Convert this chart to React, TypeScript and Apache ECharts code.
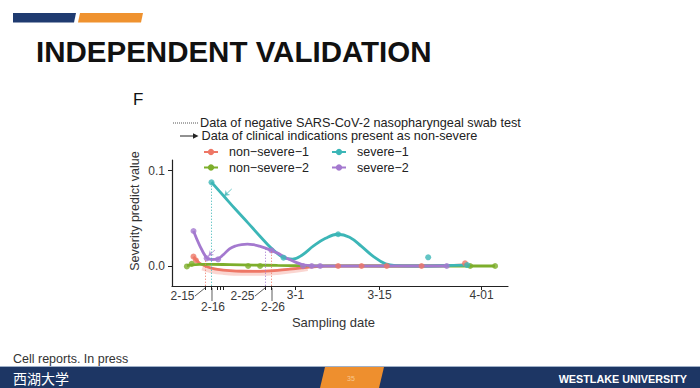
import React, { useEffect, useRef } from 'react';
import * as echarts from 'echarts';

const FONT = '"Liberation Sans", Arial, Helvetica, sans-serif';

// ---- series identity ----
const seriesNames = ['non−severe−1', 'non−severe−2', 'severe−1', 'severe−2'];
const seriesColors = ['#EE7766', '#7DAE2B', '#3CB6B7', '#A479CF'];

// ---- observed points (x = days after 2-15, 2020; y = severity predict value) ----
const nonSevere1Days = [-2, -1.6, 22.1, 26, 30.2, 36, 43.25];
const nonSevere1Vals = [0.0098, 0.006, 0, 0, 0, 0, 0.0028];
const nonSevere2Days = [-3.1, -2.3, 7.1, 9.1, 44.1, 48.25];
const nonSevere2Vals = [-0.0005, 0.0022, 0, 0, 0, 0];
const severe1Days = [1, 13, 22.1, 37.1, 43.6];
const severe1Vals = [0.0878, 0.0087, 0.0333, 0.0091, 0.001];
const severe2Days = [-2, 0.2, 2.1, 11, 16.25, 17.7, 19.1, 40.2];
const severe2Vals = [0.0367, 0.008, 0.007, 0.0163, 0, 0, 0, 0];

// ---- smoothed (loess) curves ----
const nonSevere1CurveDays = [-2, -1.5, -1, 0, 1, 2, 4, 6, 8, 10, 12, 14, 16, 18, 20, 25, 30, 35, 40, 43.25];
const nonSevere1CurveVals = [0.0098, 0.006, 0.003, 0.0, -0.0022, -0.0035, -0.0048, -0.0055, -0.0056, -0.0054, -0.0046, -0.0034, -0.002, -0.0008, -0.0002, 0, 0, 0, 0.0004, 0.0012];
const nonSevere1BandDays = [-0.5, 1, 3, 6, 9, 12, 15, 17];
const nonSevere1BandVals = [-0.0015, -0.0045, -0.0062, -0.0072, -0.0072, -0.0062, -0.004, -0.0022];
const nonSevere2CurveDays = [-3.1, -2.3, -1, 1, 4, 8, 12, 16, 20, 30, 40, 48.25];
const nonSevere2CurveVals = [0.0003, 0.0012, 0.0017, 0.0017, 0.0014, 0.001, 0.0006, 0.0003, 0.0001, 0, 0, 0];
const severe1CurveDays = [1, 3, 5, 7, 9, 11, 13, 14.5, 16, 18, 20, 22, 24, 26, 28, 30, 32, 36, 40, 43.6];
const severe1CurveVals = [0.0878, 0.0737, 0.0595, 0.0458, 0.0318, 0.0185, 0.0088, 0.0072, 0.011, 0.021, 0.029, 0.0333, 0.0302, 0.0205, 0.0098, 0.0022, 0.0004, 0, 0.0004, 0.001];
const severe2CurveDays = [-2, -1, 0.2, 1, 2, 3, 4, 5, 6, 7, 8, 9, 10, 11, 12, 13, 14, 15, 16, 17, 18.5, 25, 30, 35, 40.2];
const severe2CurveVals = [0.0367, 0.022, 0.0085, 0.0068, 0.0075, 0.012, 0.018, 0.021, 0.0225, 0.023, 0.0223, 0.0208, 0.0188, 0.0163, 0.0135, 0.01, 0.0068, 0.004, 0.0018, 0.0006, 0, 0, 0, 0, 0];

// ---- annotations ----
const negTestDays = [0, 1, 10, 11];
const negTestTops = [0.006, 0.0878, 0.02, 0.015];
const negTestSeries = [0, 2, 3, 0];
const arrowFrom = [[4.37, 0.0808], [1.58, 0.0168]];
const arrowTo = [[3.13, 0.0735], [0.47, 0.0105]];
const arrowSeries = [2, 3];

// ---- axes ----
const X_MIN = -5.58;
const X_MAX = 50.4;
const Y_MIN = -0.021;
const Y_MAX = 0.1112;
const xTickDays = [0, 1, 1.9, 2.4, 2.9, 10, 11, 15, 29, 46];
const xLabelDays = [15, 29, 46];
const xLabelTexts = ['3-1', '3-15', '4-01'];
const xLeaderDays = [0, 1, 10, 11];
const xLeaderTexts = ['2-15', '2-16', '2-25', '2-26'];
const yTickValues = [0, 0.1];
const yTickTexts = ['0.0', '0.1'];

const pair = (xs: number[], ys: number[]) => xs.map((x, i) => [x, ys[i]]);

export default function App() {
  const ref = useRef<HTMLDivElement>(null);
  useEffect(() => {
    if (!ref.current) return;
    const chart = echarts.init(ref.current, undefined, { renderer: 'svg' });
    const curves = [
      [nonSevere1CurveDays, nonSevere1CurveVals],
      [nonSevere2CurveDays, nonSevere2CurveVals],
      [severe1CurveDays, severe1CurveVals],
      [severe2CurveDays, severe2CurveVals],
    ];
    const points = [
      [nonSevere1Days, nonSevere1Vals],
      [nonSevere2Days, nonSevere2Vals],
      [severe1Days, severe1Vals],
      [severe2Days, severe2Vals],
    ];
    const series: any[] = [];
    series.push({
      type: 'line', name: 'band', data: pair(nonSevere1BandDays, nonSevere1BandVals), smooth: 0.4,
      symbol: 'none', lineStyle: { color: seriesColors[0], width: 6, opacity: 0.3 }, silent: true, z: 1,
    });
    curves.forEach((c, i) => {
      series.push({
        type: 'line', name: seriesNames[i], data: pair(c[0], c[1]), smooth: 0.4,
        symbol: 'circle', symbolSize: 6, showSymbol: false,
        lineStyle: { color: seriesColors[i], width: 2.8 }, itemStyle: { color: seriesColors[i] }, z: 2,
      });
    });
    points.forEach((p, i) => {
      series.push({
        type: 'scatter', name: seriesNames[i], data: pair(p[0], p[1]), symbolSize: 6,
        itemStyle: { color: seriesColors[i] }, z: 3,
      });
    });
    series.push({
      type: 'line', name: 'annot', data: [], symbol: 'none', z: 4,
      markLine: {
        silent: true, symbol: ['none', 'none'], label: { show: false }, animation: false,
        data: negTestDays.map((d, i) => [
          { coord: [d, Y_MIN], lineStyle: { color: seriesColors[negTestSeries[i]], type: [1.4, 1.6], width: 1, opacity: 0.75 } },
          { coord: [d, negTestTops[i]] },
        ]),
      },
    });
    series.push({
      type: 'line', name: 'arrows', data: [], symbol: 'none', z: 4,
      markLine: {
        silent: true, symbol: ['none', 'arrow'], symbolSize: 5, label: { show: false }, animation: false,
        data: arrowFrom.map((f, i) => [
          { coord: f, lineStyle: { color: seriesColors[arrowSeries[i]], type: 'solid', width: 1, opacity: 0.75 } },
          { coord: arrowTo[i] },
        ]),
      },
    });

    const legendCommon = {
      orient: 'vertical', top: 145, padding: 0, itemWidth: 14, itemHeight: 8, itemGap: 1.5,
      selectedMode: false,
      textStyle: { fontSize: 12.5, color: '#222', fontFamily: FONT, lineHeight: 14, padding: [0, 0, 0, 6] },
    };

    chart.setOption({
      animation: false,
      backgroundColor: '#ffffff',
      grid: { left: 172, top: 160, width: 336, height: 126, outerBoundsMode: 'none', containLabel: false },
      legend: [
        { ...legendCommon, left: 203, data: [seriesNames[0], seriesNames[1]] },
        { ...legendCommon, left: 331, data: [seriesNames[2], seriesNames[3]] },
      ],
      xAxis: {
        type: 'value', min: X_MIN, max: X_MAX,
        axisLine: { show: true, onZero: false, lineStyle: { color: '#222', width: 1.2 } },
        axisTick: { show: true, length: 4, customValues: xTickDays, lineStyle: { color: '#222', width: 1 } },
        axisLabel: {
          show: true, customValues: xLabelDays, margin: 3, fontSize: 12, color: '#3a3a3a', fontFamily: FONT,
          formatter: (v: number) => { const k = xLabelDays.indexOf(v); return k >= 0 ? xLabelTexts[k] : ''; },
        },
        splitLine: { show: false },
      },
      yAxis: {
        type: 'value', min: Y_MIN, max: Y_MAX,
        axisLine: { show: true, onZero: false, lineStyle: { color: '#222', width: 1.2 } },
        axisTick: { show: true, length: 4, customValues: yTickValues, lineStyle: { color: '#222', width: 1 } },
        axisLabel: {
          show: true, customValues: yTickValues, margin: 7, fontSize: 12, color: '#3a3a3a', fontFamily: FONT,
          formatter: (v: number) => { const k = yTickValues.indexOf(v); return k >= 0 ? yTickTexts[k] : ''; },
        },
        splitLine: { show: false },
      },
      series,
    });

    const g: any[] = [];
    // slide decorations
    g.push({ type: 'polygon', shape: { points: [[13, 13], [76, 13], [74, 22.5], [13, 22.5]] }, style: { fill: '#1f3b70' } });
    g.push({ type: 'polygon', shape: { points: [[80, 13], [143, 13], [141, 22.5], [78, 22.5]] }, style: { fill: '#ef922f' } });
    g.push({ type: 'text', x: 36, y: 51.5, style: { text: 'INDEPENDENT VALIDATION', fontSize: 29.5, fontWeight: 'bold', fill: '#111', fontFamily: FONT, verticalAlign: 'middle' } });
    g.push({ type: 'text', x: 133, y: 99, style: { text: 'F', fontSize: 17, fill: '#111', fontFamily: FONT, verticalAlign: 'middle' } });
    // annotation key
    g.push({ type: 'line', shape: { x1: 173, y1: 123, x2: 199, y2: 123 }, style: { stroke: '#555', lineWidth: 1, lineDash: [1, 1] } });
    g.push({ type: 'text', x: 200, y: 122.5, style: { text: 'Data of negative SARS-CoV-2 nasopharyngeal swab test', fontSize: 12.7, fill: '#222', fontFamily: FONT, verticalAlign: 'middle' } });
    g.push({ type: 'line', shape: { x1: 180, y1: 136, x2: 194, y2: 136 }, style: { stroke: '#222', lineWidth: 1 } });
    g.push({ type: 'polygon', shape: { points: [[193, 133.3], [198.5, 136], [193, 138.7]] }, style: { fill: '#222' } });
    g.push({ type: 'text', x: 201.5, y: 135.8, style: { text: 'Data of clinical indications present as non-severe', fontSize: 12.7, fill: '#222', fontFamily: FONT, verticalAlign: 'middle' } });
    // axis titles
    g.push({ type: 'text', x: 135, y: 211, rotation: Math.PI / 2, style: { text: 'Severity predict value', fontSize: 12.5, fill: '#333', fontFamily: FONT, align: 'center', verticalAlign: 'middle' } });
    g.push({ type: 'text', x: 333.5, y: 322, style: { text: 'Sampling date', fontSize: 13, fill: '#333', fontFamily: FONT, align: 'center', verticalAlign: 'middle' } });
    // repelled x labels with leader segments
    xLeaderDays.forEach((d, i) => {
      const p = chart.convertToPixel({ gridIndex: 0 }, [d, Y_MIN]) as number[];
      const px = p[0];
      const py = p[1];
      if (i % 2 === 0) {
        g.push({ type: 'line', shape: { x1: px - 10.5, y1: py + 10, x2: px - 0.5, y2: py + 2 }, style: { stroke: '#333', lineWidth: 0.8 } });
        g.push({ type: 'text', x: px - 11, y: py + 10, style: { text: xLeaderTexts[i], fontSize: 12, fill: '#3a3a3a', fontFamily: FONT, align: 'right', verticalAlign: 'middle' } });
      } else {
        g.push({ type: 'line', shape: { x1: px + 0.5, y1: py + 2, x2: px + 0.5, y2: py + 15 }, style: { stroke: '#333', lineWidth: 0.8 } });
        g.push({ type: 'text', x: px + 1.5, y: py + 20.5, style: { text: xLeaderTexts[i], fontSize: 12, fill: '#3a3a3a', fontFamily: FONT, align: 'center', verticalAlign: 'middle' } });
      }
    });
    // footer
    g.push({ type: 'text', x: 13, y: 358.5, style: { text: 'Cell reports. In press', fontSize: 12.5, fill: '#333', fontFamily: FONT, verticalAlign: 'middle' } });
    g.push({ type: 'rect', shape: { x: 0, y: 366, width: 700, height: 1.2 }, style: { fill: '#9fb0c8' } });
    g.push({ type: 'rect', shape: { x: 0, y: 367, width: 700, height: 21 }, style: { fill: '#1d3664' } });
    g.push({ type: 'polygon', shape: { points: [[325, 367], [384, 367], [379, 388], [320, 388]] }, style: { fill: '#ee8f2e' } });
    g.push({ type: 'text', x: 351, y: 378, style: { text: '35', fontSize: 7, fill: '#f8c890', fontFamily: FONT, align: 'center', verticalAlign: 'middle' } });
    g.push({ type: 'text', x: 13, y: 377.5, style: { text: '西湖大学', fontSize: 14, fill: '#ffffff', fontFamily: '"Noto Sans CJK SC", sans-serif', verticalAlign: 'middle' } });
    g.push({ type: 'text', x: 687, y: 378.5, style: { text: 'WESTLAKE UNIVERSITY', fontSize: 10.8, fontWeight: 'bold', fill: '#ffffff', fontFamily: FONT, align: 'right', verticalAlign: 'middle' } });

    chart.setOption({ graphic: g });
    return () => chart.dispose();
  }, []);
  return <div ref={ref} style={{ position: 'fixed', left: 0, top: 0, width: 700, height: 388, background: '#fff' }} />;
}
